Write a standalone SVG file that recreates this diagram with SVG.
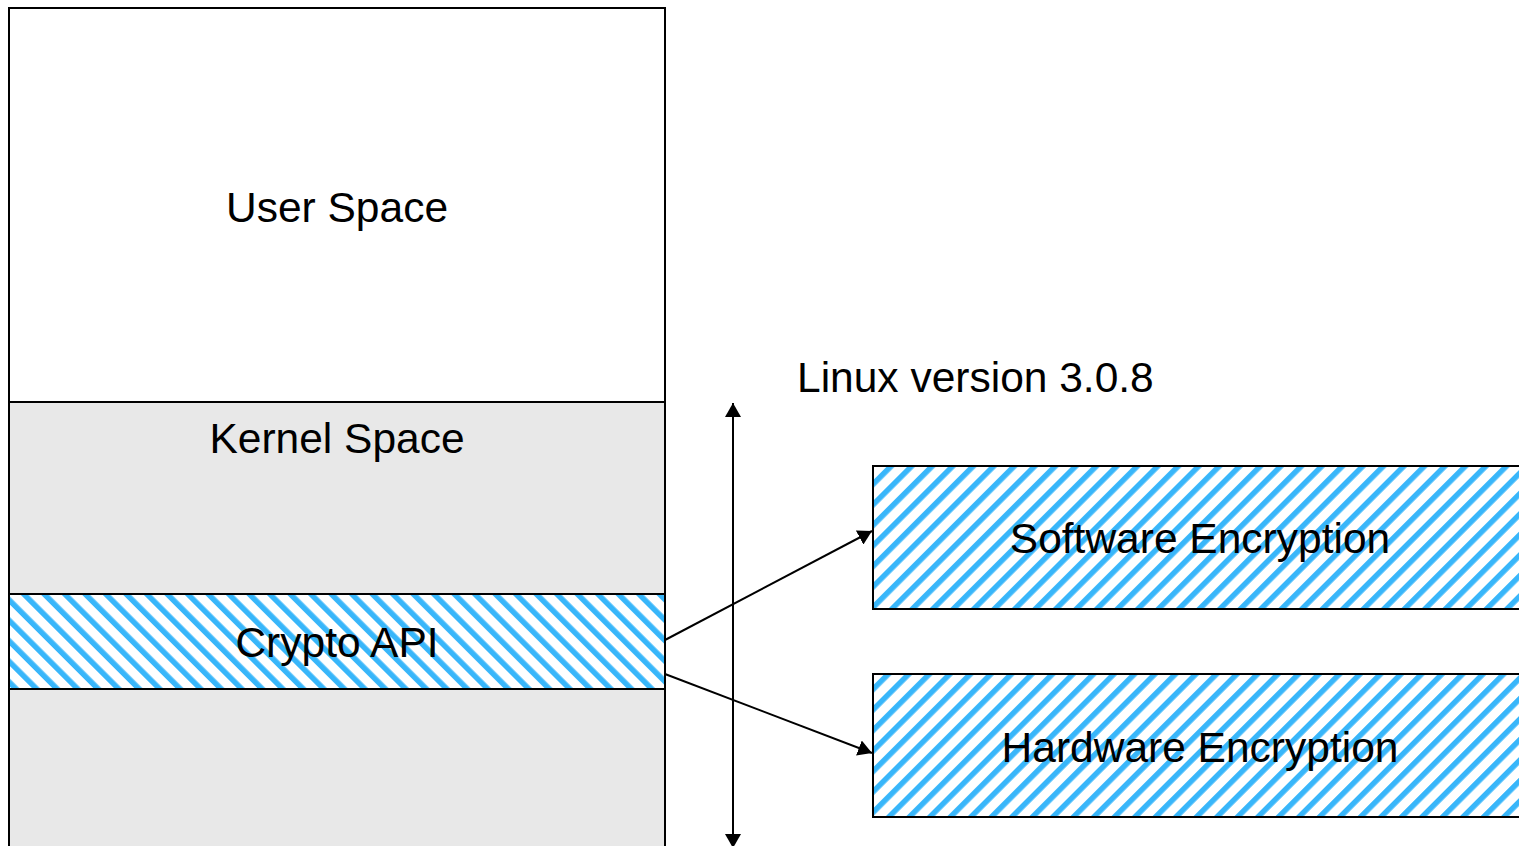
<svg xmlns="http://www.w3.org/2000/svg" width="1519" height="846" viewBox="0 0 1519 846">
<style>
.box{stroke:#000;stroke-width:2}
.t{font-family:"Liberation Sans",Arial,sans-serif;font-size:42.5px;fill:#000}
.c{text-anchor:middle}
.ln{stroke:#000;stroke-width:2;fill:none}
</style>
<defs>
<pattern id="hatchA" patternUnits="userSpaceOnUse" width="14.5" height="14.5" patternTransform="rotate(-45)">
<rect width="14.5" height="14.5" fill="#fff"/>
<rect width="5.5" height="14.5" fill="#38b6fa"/>
</pattern>
<pattern id="hatchB" patternUnits="userSpaceOnUse" width="14.5" height="14.5" patternTransform="rotate(45)">
<rect width="14.5" height="14.5" fill="#fff"/>
<rect width="5.5" height="14.5" fill="#38b6fa"/>
</pattern>
<marker id="ah" viewBox="0 0 14 16" refX="14" refY="8" markerWidth="14" markerHeight="16" markerUnits="userSpaceOnUse" orient="auto-start-reverse">
<path d="M0,0 L14,8 L0,16 Z" fill="#000"/>
</marker>
</defs>
<g id="user-space">
<rect class="box" x="9" y="8" width="656" height="394" fill="#fff"/>
<text class="t c" x="337" y="222">User Space</text>
</g>
<g id="kernel-space">
<rect class="box" x="9" y="402" width="656" height="192" fill="#e8e8e8"/>
<text class="t c" x="337" y="453">Kernel Space</text>
</g>
<g id="crypto-api">
<rect class="box" x="9" y="594" width="656" height="95" fill="url(#hatchA)"/>
<text class="t c" x="337" y="657">Crypto API</text>
</g>
<g id="lower-kernel">
<rect class="box" x="9" y="689" width="656" height="170" fill="#e8e8e8"/>
</g>
<g id="software-encryption">
<rect class="box" x="873" y="466" width="656" height="143" fill="url(#hatchB)"/>
<text class="t c" x="1200" y="553">Software Encryption</text>
</g>
<g id="hardware-encryption">
<rect class="box" x="873" y="674" width="656" height="143" fill="url(#hatchB)"/>
<text class="t c" x="1200" y="762">Hardware Encryption</text>
</g>
<g id="linux-label">
<text class="t" x="797" y="392">Linux version 3.0.8</text>
</g>
<g id="connectors">
<line class="ln" x1="733" y1="403" x2="733" y2="848" marker-start="url(#ah)" marker-end="url(#ah)"/>
<line class="ln" x1="665" y1="640" x2="872" y2="531" marker-end="url(#ah)"/>
<line class="ln" x1="665" y1="674" x2="872" y2="753" marker-end="url(#ah)"/>
</g>
</svg>
